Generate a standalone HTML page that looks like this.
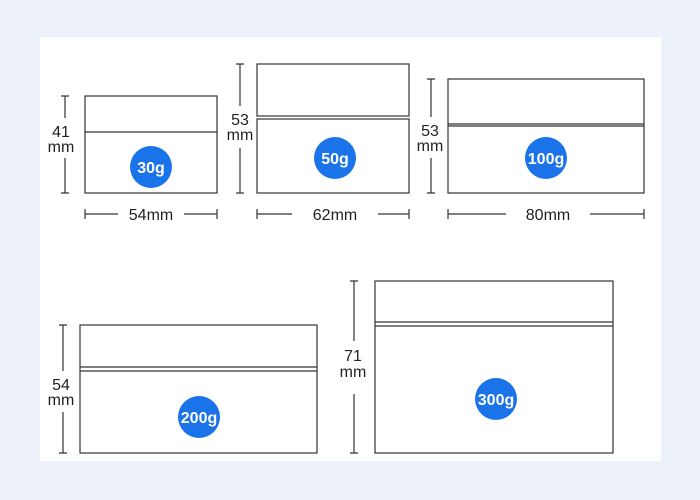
<!DOCTYPE html><html><head><style>body{margin:0;background:#edf2fa}svg{display:block}</style></head><body>
<svg width="700" height="500" xmlns="http://www.w3.org/2000/svg" font-family="Liberation Sans, sans-serif">
<rect x="0" y="0" width="700" height="500" fill="#edf2fa"/>
<rect x="40" y="37" width="621" height="424" fill="#fff"/>
<g stroke="#333" stroke-width="1.2" fill="none">
<rect x="85" y="96" width="132" height="97"/><line x1="85" y1="132" x2="217" y2="132"/>
<rect x="257" y="64" width="152" height="52"/><rect x="257" y="119" width="152" height="74"/>
<rect x="448" y="79" width="196" height="114"/><line x1="448" y1="124" x2="644" y2="124"/><line x1="448" y1="126" x2="644" y2="126"/>
<rect x="80" y="325" width="237" height="128"/><line x1="80" y1="367" x2="317" y2="367"/><line x1="80" y1="371" x2="317" y2="371"/>
<rect x="375" y="281" width="238" height="172"/><line x1="375" y1="322" x2="613" y2="322"/><line x1="375" y1="326" x2="613" y2="326"/>
<!-- vertical dims -->
<path d="M61 96h8M65 96v22M65 158v35M61 193h8"/>
<path d="M236 64h8M240 64v42M240 148v45M236 193h8"/>
<path d="M427 79h8M431 79v38M431 158v35M427 193h8"/>
<path d="M59 325h8M63 325v46M63 412v41M59 453h8"/>
<path d="M350 281h8M354 281v60M354 394v59M350 453h8"/>
<!-- horizontal dims -->
<path d="M85 209v10M85 214h33M184 214h33M217 209v10"/>
<path d="M257 209v10M257 214h35M378 214h31M409 209v10"/>
<path d="M448 209v10M448 214h58M590 214h54M644 209v10"/>
</g>
<g fill="#1a73e8"><circle cx="151" cy="167" r="21"/><circle cx="335" cy="158" r="21"/><circle cx="546" cy="158" r="21"/><circle cx="199" cy="417" r="21"/><circle cx="496" cy="399" r="21"/></g>
<g fill="#fff" font-weight="bold" font-size="16" text-anchor="middle">
<text x="151" y="173">30g</text><text x="335" y="164">50g</text><text x="546" y="164">100g</text><text x="199" y="423">200g</text><text x="496" y="405">300g</text></g>
<g fill="#222" font-size="16" text-anchor="middle">
<text x="61" y="137">41</text><text x="61" y="152">mm</text>
<text x="240" y="125">53</text><text x="240" y="140">mm</text>
<text x="430" y="136">53</text><text x="430" y="151">mm</text>
<text x="61" y="390">54</text><text x="61" y="405">mm</text>
<text x="353" y="361">71</text><text x="353" y="377">mm</text>
<text x="151" y="220">54mm</text><text x="335" y="220">62mm</text><text x="548" y="220">80mm</text>
</g>
</svg></body></html>
